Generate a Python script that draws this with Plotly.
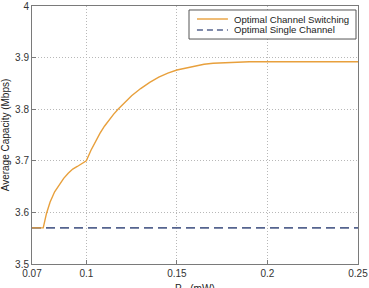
import plotly.graph_objects as go

p_th = [0.07, 0.072, 0.074, 0.0762, 0.078, 0.08, 0.0825, 0.085, 0.0875, 0.09, 0.0925, 0.095,
        0.0975, 0.1, 0.1025, 0.105, 0.1075, 0.11, 0.1125, 0.115, 0.1175, 0.12, 0.1225,
        0.125, 0.13, 0.135, 0.14, 0.145, 0.15, 0.155, 0.16, 0.165, 0.17, 0.175, 0.18,
        0.185, 0.19, 0.2, 0.21, 0.22, 0.23, 0.24, 0.25]
switching = [3.57, 3.57, 3.57, 3.57, 3.598, 3.620, 3.640, 3.654, 3.666, 3.676, 3.684, 3.689,
             3.694, 3.70, 3.720, 3.738, 3.753, 3.767, 3.779, 3.790, 3.800, 3.809, 3.818,
             3.826, 3.840, 3.852, 3.862, 3.870, 3.876, 3.880, 3.884, 3.887, 3.889, 3.890, 3.891,
             3.8915, 3.892, 3.892, 3.892, 3.892, 3.892, 3.892, 3.892]
single_x = [0.07, 0.25]
single = [3.57, 3.57]

series_names = ["Optimal Channel Switching", "Optimal Single Channel"]
series_colors = ["#e8a03c", "#55648f"]

x_ticks = [0.07, 0.1, 0.15, 0.2, 0.25]
x_labels = ["0.07", "0.1", "0.15", "0.2", "0.25"]
y_ticks = [3.5, 3.6, 3.7, 3.8, 3.9, 4]
y_labels = ["3.5", "3.6", "3.7", "3.8", "3.9", "4"]

FONT = "Liberation Sans, Arial"

fig = go.Figure()
fig.add_trace(go.Scatter(x=single_x, y=single, mode="lines", name=series_names[1],
                         showlegend=False,
                         line=dict(color=series_colors[1], width=1.6, dash="9px,5px")))
fig.add_trace(go.Scatter(x=p_th, y=switching, mode="lines", name=series_names[0],
                         showlegend=False, line=dict(color=series_colors[0], width=1.4)))

axis_common = dict(showline=True, linecolor="#7a7a7a", linewidth=1, mirror=True,
                   ticks="inside", ticklen=4, tickcolor="#7a7a7a",
                   showgrid=True, gridcolor="#b8b8b8", griddash="1px,2px", gridwidth=1,
                   zeroline=False, tickfont=dict(family=FONT, size=10, color="#333"))

# manual compact legend (MATLAB style)
box = dict(x0=0.4816, x1=0.9939, y0=0.872, y1=0.9845)
rows_y = [0.9496, 0.907]
sample_x = [0.506, 0.601]
shapes = [dict(type="rect", xref="paper", yref="paper", **box,
               line=dict(color="#555", width=1), fillcolor="white", layer="above")]
dashes = ["solid", "6px,4px"]
annotations = []
for name, color, yy, dsh in zip(series_names, series_colors, rows_y, dashes):
    shapes.append(dict(type="line", xref="paper", yref="paper", x0=sample_x[0], x1=sample_x[1],
                       y0=yy, y1=yy, line=dict(color=color, width=1.4, dash=dsh), layer="above"))
    annotations.append(dict(xref="paper", yref="paper", x=0.6135, y=yy, text=name,
                            showarrow=False, xanchor="left", yanchor="middle",
                            font=dict(family=FONT, size=9.6, color="#222")))

# x-axis title (sits at the very bottom edge, partly cut off as in the original)
annotations.append(dict(xref="paper", yref="paper", x=0.5, y=-0.066, text="P<sub>th</sub> (mW)",
                        showarrow=False, xanchor="center", yanchor="top",
                        font=dict(family=FONT, size=10, color="#222")))

fig.update_layout(
    width=369, height=288,
    margin=dict(l=32, r=11, t=6, b=24),
    plot_bgcolor="white", paper_bgcolor="white",
    showlegend=False,
    shapes=shapes, annotations=annotations,
    xaxis=dict(range=[0.07, 0.25], tickvals=x_ticks, ticktext=x_labels, automargin=False,
               **axis_common),
    yaxis=dict(range=[3.5, 4], tickvals=y_ticks, ticktext=y_labels, automargin=False,
               title=dict(text="Average Capacity (Mbps)", standoff=4,
                          font=dict(family=FONT, size=10, color="#222")),
               **axis_common),
)

fig.write_html("out.html")
